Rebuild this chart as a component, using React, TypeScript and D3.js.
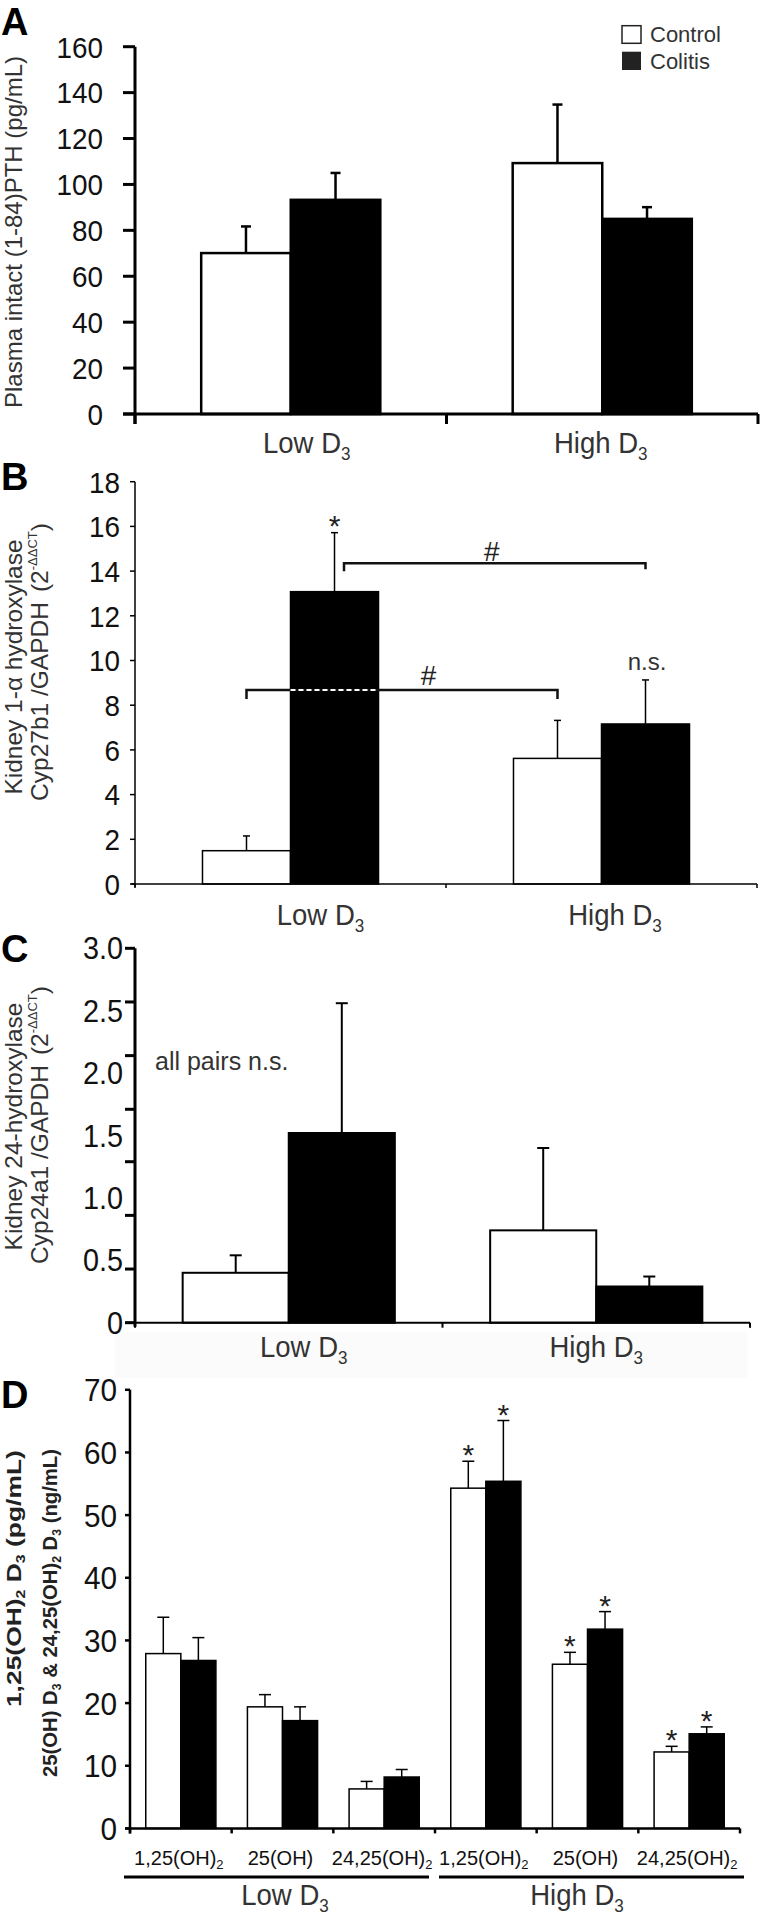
import React from "react";
import * as d3 from "d3";

const W = 760;
const H = 1918;
const FONT = "'Liberation Sans', Arial, Helvetica, sans-serif";
const TXT = "#222";

const doseGroups = ["Low", "High"];
const series = ["Control", "Colitis"];

// Panel A: plasma intact PTH (pg/mL)
const pthControl = [70.1, 109.3];
const pthControlErr = [11.6, 25.5];
const pthColitis = [93.3, 85.0];
const pthColitisErr = [11.7, 5.1];
const pthTicks = [0, 20, 40, 60, 80, 100, 120, 140, 160];

// Panel B: Cyp27b1 / GAPDH
const cyp27Control = [1.49, 5.62];
const cyp27ControlErr = [0.66, 1.7];
const cyp27Colitis = [13.08, 7.16];
const cyp27ColitisErr = [2.64, 1.97];
const cyp27Ticks = [0, 2, 4, 6, 8, 10, 12, 14, 16, 18];

// Panel C: Cyp24a1 / GAPDH
const cyp24Control = [0.4, 0.74];
const cyp24ControlErr = [0.14, 0.66];
const cyp24Colitis = [1.52, 0.29];
const cyp24ColitisErr = [1.04, 0.08];
const cyp24TickValues = [0, 0.5, 1, 1.5, 2, 2.5, 3];
const cyp24TickLabels = ["0", "0.5", "1.0", "1.5", "2.0", "2.5", "3.0"];
const cyp24TickMarks = [0, 0.43, 0.86, 1.29, 1.71, 2.14, 2.57, 3];

// Panel D: vitamin D metabolites
const metabolites = ["1,25(OH)", "25(OH)", "24,25(OH)"];
const metaboliteSub = ["2", "", "2"];
const vitDControlLow = [27.9, 19.4, 6.3];
const vitDControlLowErr = [5.8, 1.95, 1.2];
const vitDColitisLow = [26.8, 17.2, 8.2];
const vitDColitisLowErr = [3.65, 2.2, 1.2];
const vitDControlHigh = [54.3, 26.2, 12.2];
const vitDControlHighErr = [4.3, 1.9, 0.9];
const vitDColitisHigh = [55.4, 31.8, 15.1];
const vitDColitisHighErr = [9.7, 2.8, 1.1];
const vitDTicks = [0, 10, 20, 30, 40, 50, 60, 70];
const vitDSignificantHigh = [true, true, true];

function pairLayout(categories: string[], range: [number, number], frac: number) {
  const x = d3.scaleBand<string>().domain(categories).range(range);
  const bw = x.bandwidth();
  return {
    x,
    bw,
    center(i: number) {
      return (x(categories[i]) as number) + bw / 2;
    },
    bar(i: number, s: number) {
      const c = (x(categories[i]) as number) + bw / 2;
      const sub = d3
        .scaleBand<string>()
        .domain(series)
        .range([c - (bw * frac) / 2, c + (bw * frac) / 2]);
      const bx = sub(series[s]) as number;
      return { x: bx, w: sub.bandwidth(), cx: bx + sub.bandwidth() / 2 };
    },
  };
}

type Layout = ReturnType<typeof pairLayout>;

function Bars(props: {
  layout: Layout;
  y: d3.ScaleLinear<number, number>;
  data: [number[], number[]][];
  sw: number;
  ew: number;
  cap: number;
}) {
  const { layout, y, data, sw, ew, cap } = props;
  const els: React.ReactNode[] = [];
  const n = data[0][0].length;
  for (let i = 0; i < n; i++) {
    data.forEach(([vals, errs], s) => {
      const b = layout.bar(i, s);
      const top = y(vals[i]);
      const et = y(vals[i] + errs[i]);
      els.push(
        <line key={`e${i}${s}`} x1={b.cx} x2={b.cx} y1={top} y2={et} stroke="#000" strokeWidth={ew} />
      );
      els.push(
        <line key={`c${i}${s}`} x1={b.cx - cap} x2={b.cx + cap} y1={et} y2={et} stroke="#000" strokeWidth={ew} />
      );
      els.push(
        <rect
          key={`r${i}${s}`}
          x={b.x}
          y={top}
          width={b.w}
          height={y(0) - top}
          fill={s === 0 ? "#fff" : "#000"}
          stroke="#000"
          strokeWidth={sw}
        />
      );
    });
  }
  return <g>{els}</g>;
}

function YAxis(props: {
  y: d3.ScaleLinear<number, number>;
  x: number;
  marks: number[];
  values: number[];
  labels: string[];
  tickLen: number;
  labelRight: number;
  fontSize: number;
  width: number;
  bottomExt: number;
}) {
  const { y, x, marks, values, labels, tickLen, labelRight, fontSize, width, bottomExt } = props;
  const top = y(d3.max(values) as number);
  return (
    <g>
      <line x1={x} x2={x} y1={top} y2={y(0) + bottomExt} stroke="#000" strokeWidth={width} />
      {marks.map((m, i) => (
        <line key={i} x1={x - tickLen} x2={x} y1={y(m)} y2={y(m)} stroke="#000" strokeWidth={width} />
      ))}
      {values.map((v, i) => (
        <text
          key={i}
          transform={`translate(${labelRight}, ${y(v)}) scale(0.93, 1)`}
          dy="0.36em"
          textAnchor="end"
          fontSize={fontSize}
          fill="#111"
          fontFamily={FONT}
        >
          {labels[i]}
        </text>
      ))}
    </g>
  );
}

function XAxis(props: {
  layout: Layout;
  y0: number;
  start: number;
  width: number;
  tickDown: number;
  categories: string[];
}) {
  const { layout, y0, start, width, tickDown, categories } = props;
  const r = layout.x.range();
  const bounds = categories.map((c) => layout.x(c) as number).concat([r[1]]);
  return (
    <g>
      <line x1={start} x2={r[1]} y1={y0} y2={y0} stroke="#000" strokeWidth={width} />
      {bounds.map((b, i) => (
        <line key={i} x1={b} x2={b} y1={y0} y2={y0 + tickDown} stroke="#000" strokeWidth={width} />
      ))}
    </g>
  );
}

function DoseLabel(props: { x: number; y: number; name: string; size?: number }) {
  const size = props.size ?? 29;
  return (
    <text
      transform={`translate(${props.x}, ${props.y}) scale(0.95, 1)`}
      textAnchor="middle"
      fontSize={size}
      fill="#333"
      fontFamily={FONT}
    >
      {props.name} D
      <tspan fontSize={size * 0.62} dy={size * 0.25}>
        3
      </tspan>
    </text>
  );
}

function PanelLetter(props: { x: number; y: number; t: string }) {
  return (
    <text x={props.x} y={props.y} fontSize={38} fontWeight="bold" fill="#000" fontFamily={FONT}>
      {props.t}
    </text>
  );
}

export default function App() {
  // ---------- Panel A ----------
  const yA = d3.scaleLinear().domain([0, 160]).range([414, 46.7]);
  const lA = pairLayout(doseGroups, [135, 758], 0.575);
  // ---------- Panel B ----------
  const yB = d3.scaleLinear().domain([0, 18]).range([884, 481.7]);
  const lB = pairLayout(doseGroups, [135, 757], 0.566);
  // ---------- Panel C ----------
  const yC = d3.scaleLinear().domain([0, 3]).range([1322.7, 948.3]);
  const lC = pairLayout(doseGroups, [135, 750], 0.69);
  // ---------- Panel D ----------
  const yD = d3.scaleLinear().domain([0, 70]).range([1828.4, 1389.8]);
  const dCats = doseGroups.flatMap((g) => metabolites.map((m) => `${g} ${m}`));
  const lD = pairLayout(dCats, [130, 740], 0.69);
  const dControl = [...vitDControlLow, ...vitDControlHigh];
  const dControlErr = [...vitDControlLowErr, ...vitDControlHighErr];
  const dColitis = [...vitDColitisLow, ...vitDColitisHigh];
  const dColitisErr = [...vitDColitisLowErr, ...vitDColitisHighErr];

  const bLowCol = lB.bar(0, 1);
  const bHighCol = lB.bar(1, 1);
  const bLowCon = lB.bar(0, 0);
  const bHighCon = lB.bar(1, 0);
  const upperY = yB(14.35);
  const lowerY = yB(8.68);

  const dGroupX = doseGroups.map((g, gi) => {
    const first = lD.x(dCats[gi * 3]) as number;
    const last = (lD.x(dCats[gi * 3 + 2]) as number) + lD.bw;
    return [first, last];
  });

  return (
    <svg
      width={W}
      height={H}
      viewBox={`0 0 ${W} ${H}`}
      style={{ position: "absolute", left: 0, top: 0, background: "#fff" }}
      fontFamily={FONT}
    >
      <rect x={0} y={0} width={W} height={H} fill="#fff" />

      {/* ================= A ================= */}
      <PanelLetter x={1} y={35} t="A" />
      <text
        transform={`translate(22, 232) rotate(-90)`}
        textAnchor="middle"
        fontSize={24}
        fill="#333"
      >
        Plasma intact (1-84)PTH (pg/mL)
      </text>
      <Bars
        layout={lA}
        y={yA}
        data={[
          [pthControl, pthControlErr],
          [pthColitis, pthColitisErr],
        ]}
        sw={2.5}
        ew={2.5}
        cap={5}
      />
      <YAxis
        y={yA}
        x={135}
        marks={pthTicks}
        values={pthTicks}
        labels={pthTicks.map(String)}
        tickLen={12}
        labelRight={103}
        fontSize={30}
        width={3}
        bottomExt={10}
      />
      <XAxis layout={lA} y0={yA(0)} start={123} width={3} tickDown={10} categories={doseGroups} />
      <DoseLabel x={lA.center(0) + 16} y={453} name="Low" />
      <DoseLabel x={lA.center(1) - 1.5} y={453} name="High" />
      {/* legend */}
      <rect x={622} y={25.7} width={19} height={17.6} fill="#fff" stroke="#222" strokeWidth={1.5} />
      <rect x={622} y={51.7} width={19} height={18.3} fill="#222" />
      <text x={650} y={42.3} fontSize={22} fill="#333">
        {series[0]}
      </text>
      <text x={650} y={69} fontSize={22} fill="#333">
        {series[1]}
      </text>

      {/* ================= B ================= */}
      <PanelLetter x={1} y={490} t="B" />
      <text transform={`translate(22, 667) rotate(-90)`} textAnchor="middle" fontSize={24.5} fill="#333">
        Kidney 1-α hydroxylase
      </text>
      <text transform={`translate(48, 662) rotate(-90)`} textAnchor="middle" fontSize={24.5} fill="#333">
        Cyp27b1 /GAPDH
        <tspan dx={10}>(2</tspan>
        <tspan fontSize={13} dy={-11}>
          -ΔΔCT
        </tspan>
        <tspan dy={11}>)</tspan>
      </text>
      <Bars
        layout={lB}
        y={yB}
        data={[
          [cyp27Control, cyp27ControlErr],
          [cyp27Colitis, cyp27ColitisErr],
        ]}
        sw={1.5}
        ew={1.5}
        cap={3.5}
      />
      <YAxis
        y={yB}
        x={135}
        marks={cyp27Ticks}
        values={cyp27Ticks}
        labels={cyp27Ticks.map(String)}
        tickLen={5}
        labelRight={120}
        fontSize={30}
        width={1.5}
        bottomExt={3}
      />
      <XAxis layout={lB} y0={yB(0)} start={131} width={1.5} tickDown={4} categories={doseGroups} />
      <DoseLabel x={lB.center(0) + 30} y={925} name="Low" />
      <DoseLabel x={lB.center(1) + 13.5} y={925} name="High" />
      {/* significance */}
      <text
        x={bLowCol.cx}
        y={yB(cyp27Colitis[0] + cyp27ColitisErr[0]) + 3}
        textAnchor="middle"
        fontSize={30}
        fill={TXT}
      >
        *
      </text>
      <path
        d={`M${bLowCol.cx + 9.5},${upperY + 8} V${upperY} H${bHighCol.cx} V${upperY + 6}`}
        fill="none"
        stroke="#111"
        strokeWidth={2.5}
      />
      <text x={(bLowCol.cx + 9.5 + bHighCol.cx) / 2 - 3} y={upperY - 2} textAnchor="middle" fontSize={28} fill={TXT}>
        #
      </text>
      <path
        d={`M${bLowCon.cx},${lowerY + 9} V${lowerY} H${bHighCon.cx} V${lowerY + 9}`}
        fill="none"
        stroke="#111"
        strokeWidth={2.5}
      />
      <line
        x1={bLowCol.x}
        x2={bLowCol.x + bLowCol.w}
        y1={lowerY}
        y2={lowerY}
        stroke="#fff"
        strokeWidth={2}
        strokeDasharray="5,3"
      />
      <text x={bLowCol.x + bLowCol.w + 50} y={lowerY - 5} textAnchor="middle" fontSize={28} fill={TXT}>
        #
      </text>
      <text
        x={bHighCol.cx + 1.5}
        y={yB(cyp27Colitis[1] + cyp27ColitisErr[1]) - 10}
        textAnchor="middle"
        fontSize={24}
        fill="#333"
      >
        n.s.
      </text>

      {/* ================= C ================= */}
      <rect x={115} y={1332} width={632} height={46} fill="#fbfbfb" />
      <PanelLetter x={1} y={962} t="C" />
      <text transform={`translate(22, 1126.5) rotate(-90)`} textAnchor="middle" fontSize={24.5} fill="#333">
        Kidney 24-hydroxylase
      </text>
      <text transform={`translate(48, 1125) rotate(-90)`} textAnchor="middle" fontSize={24.5} fill="#333">
        Cyp24a1 /GAPDH
        <tspan dx={10}>(2</tspan>
        <tspan fontSize={13} dy={-11}>
          -ΔΔCT
        </tspan>
        <tspan dy={11}>)</tspan>
      </text>
      <Bars
        layout={lC}
        y={yC}
        data={[
          [cyp24Control, cyp24ControlErr],
          [cyp24Colitis, cyp24ColitisErr],
        ]}
        sw={2}
        ew={2}
        cap={6}
      />
      <YAxis
        y={yC}
        x={135}
        marks={cyp24TickMarks}
        values={cyp24TickValues}
        labels={cyp24TickLabels}
        tickLen={10}
        labelRight={123}
        fontSize={31}
        width={3}
        bottomExt={4}
      />
      <XAxis layout={lC} y0={yC(0)} start={125} width={2} tickDown={5} categories={doseGroups} />
      <DoseLabel x={lC.center(0) + 15} y={1357} name="Low" />
      <DoseLabel x={lC.center(1)} y={1357} name="High" />
      <text x={155} y={1070} fontSize={25} fill="#333">
        all pairs n.s.
      </text>

      {/* ================= D ================= */}
      <PanelLetter x={1} y={1408} t="D" />
      <text
        transform={`translate(21, 1578.6) rotate(-90)`}
        textAnchor="middle"
        fontSize={20}
        fontWeight="bold"
        fill="#222"
        textLength={257}
        lengthAdjust="spacingAndGlyphs"
      >
        1,25(OH)
        <tspan fontSize={12} dy={4}>
          2
        </tspan>
        <tspan dy={-4}> D</tspan>
        <tspan fontSize={12} dy={4}>
          3
        </tspan>
        <tspan dy={-4}> (pg/mL)</tspan>
      </text>
      <text
        transform={`translate(57, 1613) rotate(-90)`}
        textAnchor="middle"
        fontSize={20}
        fontWeight="bold"
        fill="#222"
        textLength={328}
        lengthAdjust="spacingAndGlyphs"
      >
        25(OH) D
        <tspan fontSize={12} dy={4}>
          3
        </tspan>
        <tspan dy={-4}> &amp; 24,25(OH)</tspan>
        <tspan fontSize={12} dy={4}>
          2
        </tspan>
        <tspan dy={-4}> D</tspan>
        <tspan fontSize={12} dy={4}>
          3
        </tspan>
        <tspan dy={-4}> (ng/mL)</tspan>
      </text>
      <Bars
        layout={lD}
        y={yD}
        data={[
          [dControl, dControlErr],
          [dColitis, dColitisErr],
        ]}
        sw={1.5}
        ew={1.5}
        cap={6}
      />
      <YAxis
        y={yD}
        x={130}
        marks={vitDTicks}
        values={vitDTicks}
        labels={vitDTicks.map(String)}
        tickLen={5}
        labelRight={117}
        fontSize={32}
        width={2.5}
        bottomExt={5}
      />
      <XAxis layout={lD} y0={yD(0)} start={125} width={2.5} tickDown={5} categories={dCats} />
      {dCats.map((c, i) => (
        <text
          key={c}
          x={lD.center(i) - 2}
          y={1865}
          textAnchor="middle"
          fontSize={20}
          fill="#111"
        >
          {metabolites[i % 3]}
          {metaboliteSub[i % 3] ? (
            <tspan fontSize={13} dy={4}>
              {metaboliteSub[i % 3]}
            </tspan>
          ) : null}
        </text>
      ))}
      {/* significance asterisks for high dose */}
      {vitDSignificantHigh.map((sig, k) =>
        sig
          ? [0, 1].map((s) => {
              const i = 3 + k;
              const b = lD.bar(i, s);
              const v = s === 0 ? dControl[i] + dControlErr[i] : dColitis[i] + dColitisErr[i];
              return (
                <text key={`s${k}${s}`} x={b.cx} y={yD(v) + 4} textAnchor="middle" fontSize={30} fill={TXT}>
                  *
                </text>
              );
            })
          : null
      )}
      {dGroupX.map(([a, b], gi) => (
        <line
          key={gi}
          x1={a + (gi === 0 ? -6 : 4)}
          x2={b + (gi === 0 ? -6 : 4)}
          y1={1877}
          y2={1877}
          stroke="#000"
          strokeWidth={3}
        />
      ))}
      <DoseLabel x={(dGroupX[0][0] + dGroupX[0][1]) / 2 + 2.5} y={1905} name="Low" />
      <DoseLabel x={(dGroupX[1][0] + dGroupX[1][1]) / 2 - 10.5} y={1905} name="High" />
    </svg>
  );
}
